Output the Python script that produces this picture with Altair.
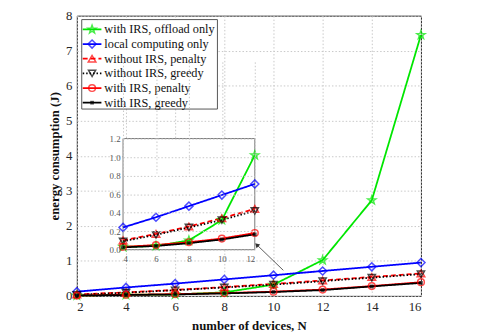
import altair as alt
import pandas as pd

# ---------------- data ----------------
N = [2, 4, 6, 8, 10, 12, 14, 16]
series_names = [
    "with IRS, offload only",
    "local computing only",
    "without IRS, penalty",
    "without IRS, greedy",
    "with IRS, penalty",
    "with IRS, greedy",
]
offload_only = [0.01, 0.03, 0.04, 0.10, 0.32, 1.02, 2.73, 7.45]
local_only = [0.12, 0.24, 0.35, 0.47, 0.59, 0.71, 0.83, 0.95]
noirs_penalty = [0.04, 0.10, 0.17, 0.25, 0.34, 0.44, 0.54, 0.64]
noirs_greedy = [0.03, 0.09, 0.16, 0.24, 0.32, 0.42, 0.52, 0.62]
irs_penalty = [0.01, 0.03, 0.05, 0.08, 0.12, 0.18, 0.28, 0.39]
irs_greedy = [0.01, 0.025, 0.04, 0.07, 0.11, 0.165, 0.27, 0.37]

x_ticks = [2, 4, 6, 8, 10, 12, 14, 16]
y_ticks = [0, 1, 2, 3, 4, 5, 6, 7, 8]
inset_x_ticks = [4, 6, 8, 10, 12]
inset_y_ticks = [0, 0.2, 0.4, 0.6, 0.8, 1.0, 1.2]

# annotation arrow (tail -> head) in main data coordinates
arrow_x = [10.4, 9.32]
arrow_y = [0.73, 1.46]

# ---------------- styles ----------------
STAR = ("M0,-1L0.235,-0.324L0.951,-0.309L0.380,0.124L0.588,0.809L0,0.4"
        "L-0.588,0.809L-0.380,0.124L-0.951,-0.309L-0.235,-0.324Z")
colors = ["#00e600", "#0000ff", "#ff0000", "#000000", "#ff0000", "#000000"]
dashes = [[1, 0], [1, 0], [5, 3], [1.5, 2], [1, 0], [1, 0]]
shapes = [STAR, "diamond", "triangle-up", "triangle-down", "circle", "square"]

FONT = "Liberation Serif"
W, H = 350, 285

rows = []
for i, (name, vals) in enumerate(zip(series_names, [offload_only, local_only, noirs_penalty,
                                                     noirs_greedy, irs_penalty, irs_greedy])):
    for n, v in zip(N, vals):
        rows.append({"series": name, "N": n, "E": v, "idx": i})
df = pd.DataFrame(rows)

color_enc = alt.Color("series:N", scale=alt.Scale(domain=series_names, range=colors), legend=None)
dash_enc = alt.StrokeDash("series:N", scale=alt.Scale(domain=series_names, range=dashes), legend=None)
shape_enc = alt.Shape("series:N", scale=alt.Scale(domain=series_names, range=shapes), legend=None)
size_enc = alt.Size("series:N", scale=alt.Scale(domain=series_names,
                                                range=[75, 40, 40, 40, 40, 14]), legend=None)

# ---------------- main panel ----------------
main_x_axis = alt.Axis(values=x_ticks, tickCount=len(x_ticks), title="number of devices, N",
                       grid=True, gridColor="#c8c8c8", gridDash=[1.5, 2], ticks=False,
                       domain=False, labelFontSize=13, labelColor="#262626", labelPadding=5,
                       labelOverlap=False, labelFont=FONT, titleFont=FONT,
                       titleFontSize=13, titleFontWeight="bold", titleColor="#111",
                       titlePadding=6, orient="bottom")
main_y_axis = alt.Axis(values=y_ticks, tickCount=len(y_ticks), title="energy consumption (J)",
                       grid=True, gridColor="#c8c8c8", gridDash=[1.5, 2], ticks=False,
                       domain=False, labelFontSize=13, labelColor="#262626", labelPadding=5,
                       labelOverlap=False, labelFont=FONT, titleFont=FONT,
                       titleFontSize=13, titleFontWeight="bold", titleColor="#111",
                       titleX=-16, orient="left")
main_xs = alt.Scale(domain=[2, 16], nice=False)
main_ys = alt.Scale(domain=[0, 8], nice=False)


def mx(field="N"):
    return alt.X(f"{field}:Q", scale=main_xs, axis=main_x_axis)


def my(field="E"):
    return alt.Y(f"{field}:Q", scale=main_ys, axis=main_y_axis)


base = alt.Chart(df)
main_lines = base.mark_line(strokeWidth=1.8).encode(
    x=mx(), y=my(), color=color_enc, strokeDash=dash_enc, detail="series:N", order="N:Q")
main_pts = base.transform_filter("datum.idx < 5").mark_point(strokeWidth=1.5).encode(
    x=mx(), y=my(), color=color_enc, shape=shape_enc, size=size_enc)
main_sq = base.transform_filter("datum.idx == 5").mark_square(size=14, color="#000").encode(
    x=mx(), y=my())

arrow_df = pd.DataFrame({"N": [arrow_x[0]], "E": [arrow_y[0]], "N2": [arrow_x[1]], "E2": [arrow_y[1]]})
arrow_line = alt.Chart(arrow_df).mark_rule(color="#333", strokeWidth=0.8).encode(
    x=mx(), y=my(), x2="N2", y2="E2")
arrow_head = alt.Chart(arrow_df).mark_point(shape="triangle-up", size=28, filled=True,
                                            color="#333", angle=314, opacity=1).encode(
    x=mx("N2"), y=my("E2"))

main_layer = alt.layer(main_lines, main_pts, main_sq, arrow_line, arrow_head)

# ---------------- inset panel ----------------
inset_x_axis = alt.Axis(values=inset_x_ticks, tickCount=len(inset_x_ticks), title=None,
                        orient="bottom", offset=-47, grid=True, gridColor="#c8c8c8",
                        gridDash=[1.5, 2], ticks=False, domain=False, labelFontSize=9,
                        labelColor="#555", labelPadding=5, labelOverlap=False,
                        labelFont=FONT, zindex=1)
inset_y_axis = alt.Axis(values=inset_y_ticks, tickCount=len(inset_y_ticks), title=None,
                        orient="left", offset=-47, grid=True, gridColor="#c8c8c8",
                        gridDash=[1.5, 2], ticks=False, domain=False, labelFontSize=9,
                        labelColor="#555", labelPadding=3, labelOverlap=False,
                        labelFont=FONT, zindex=1)
inset_xs = alt.Scale(domain=[4, 12], range=[47, 181], nice=False)
inset_ys = alt.Scale(domain=[0, 1.2], range=[238, 125], nice=False)


def ix(field="N"):
    return alt.X(f"{field}:Q", scale=inset_xs, axis=inset_x_axis)


def iy(field="E"):
    return alt.Y(f"{field}:Q", scale=inset_ys, axis=inset_y_axis)


box_df = pd.DataFrame({"N": [inset_x_ticks[0]], "N2": [inset_x_ticks[-1]],
                       "E": [inset_y_ticks[0]], "E2": [inset_y_ticks[-1]]})
inset_box = alt.Chart(box_df).mark_rect(fill="white", stroke="#777", strokeWidth=1).encode(
    x=ix(), y=iy(), x2="N2", y2="E2")
ibase = alt.Chart(df).transform_filter("datum.N >= 4 && datum.N <= 12")
inset_lines = ibase.mark_line(strokeWidth=1.8).encode(
    x=ix(), y=iy(), color=color_enc, strokeDash=dash_enc, detail="series:N", order="N:Q")
inset_pts = ibase.transform_filter("datum.idx < 5").mark_point(strokeWidth=1.5).encode(
    x=ix(), y=iy(), color=color_enc, shape=shape_enc, size=size_enc)
inset_sq = ibase.transform_filter("datum.idx == 5").mark_square(size=14, color="#000").encode(
    x=ix(), y=iy())
inset_layer = alt.layer(inset_box, inset_lines, inset_pts, inset_sq)

# ---------------- legend ----------------
leg_df = pd.DataFrame({"series": series_names, "idx": list(range(len(series_names)))})
ly = alt.Y("idx:Q", scale=alt.Scale(domain=[0, 5], range=[14, 88.5]), axis=None)
leg_box = alt.Chart(pd.DataFrame({"a": [1]})).mark_rect(fill="white", stroke="#555",
                                                        strokeWidth=1).encode(
    x=alt.value(5), x2=alt.value(143), y=alt.value(4), y2=alt.value(95))
lbase = alt.Chart(leg_df)
leg_lines = lbase.mark_rule(strokeWidth=1.8).encode(
    x=alt.value(6), x2=alt.value(25), y=ly, color=color_enc, strokeDash=dash_enc)
leg_pts = lbase.transform_filter("datum.idx < 5").mark_point(strokeWidth=1.5).encode(
    x=alt.value(15.5), y=ly, color=color_enc, shape=shape_enc, size=size_enc)
leg_sq = lbase.transform_filter("datum.idx == 5").mark_square(size=14, color="#000").encode(
    x=alt.value(15.5), y=ly)
leg_text = lbase.mark_text(align="left", baseline="middle", fontSize=12.5, font=FONT,
                           color="#111").encode(x=alt.value(28), y=ly, text="series:N")
legend_layer = alt.layer(leg_box, leg_lines, leg_pts, leg_sq, leg_text)

chart = alt.layer(main_layer, inset_layer, legend_layer).resolve_scale(
    x="independent", y="independent"
).properties(
    width=W, height=H, autosize="none",
    padding={"left": 70, "top": 5, "right": 57, "bottom": 36},
).configure(font=FONT).configure_view(stroke="#262626", strokeWidth=1)

chart.save("out.html", embed_options={"renderer": "svg", "actions": False})
